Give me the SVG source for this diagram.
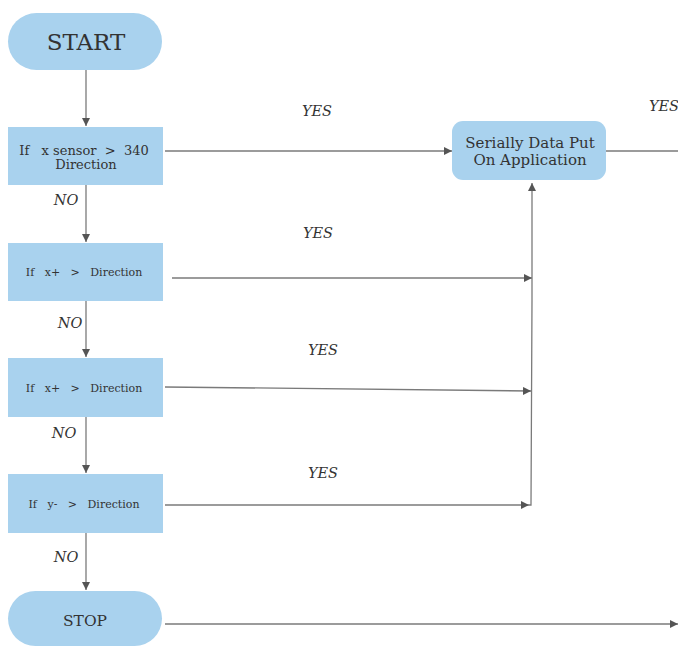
<svg xmlns="http://www.w3.org/2000/svg" width="678" height="647" viewBox="0 0 678 647">
<style>
.node{fill:#a9d2ee;stroke:none}
text{font-family:'DejaVu Serif','Liberation Serif',serif}
.t{fill:#333;text-anchor:middle}
.lbl{font-style:italic;fill:#333;font-size:14.5px;text-anchor:middle}
.c{stroke:#7a7a7a;stroke-width:1.3;fill:none}
</style>
<defs>
<marker id="ah" viewBox="0 0 10 10" refX="10" refY="5" markerWidth="8" markerHeight="8" markerUnits="userSpaceOnUse" orient="auto">
<path d="M0,0 L10,5 L0,10 z" fill="#555"/>
</marker>
</defs>
<rect width="678" height="647" fill="#fff"/>
<g id="connectors">
<line class="c" x1="86" y1="70" x2="86" y2="126" marker-end="url(#ah)"/>
<line class="c" x1="86" y1="185" x2="86" y2="242" marker-end="url(#ah)"/>
<line class="c" x1="86" y1="301" x2="86" y2="357" marker-end="url(#ah)"/>
<line class="c" x1="86" y1="417" x2="86" y2="473" marker-end="url(#ah)"/>
<line class="c" x1="86" y1="533" x2="86" y2="590" marker-end="url(#ah)"/>
<line class="c" x1="165" y1="151" x2="452" y2="151" marker-end="url(#ah)"/>
<line class="c" x1="606" y1="151" x2="678" y2="151"/>
<line class="c" x1="172" y1="278" x2="532" y2="278" marker-end="url(#ah)"/>
<line class="c" x1="165" y1="387" x2="531" y2="391" marker-end="url(#ah)"/>
<line class="c" x1="165" y1="505" x2="529" y2="505" marker-end="url(#ah)"/>
<polyline class="c" points="529,505 531,505 532,300"/>
<line class="c" x1="532" y1="300" x2="532" y2="183" marker-end="url(#ah)"/>
<line class="c" x1="165" y1="624" x2="678" y2="624" marker-end="url(#ah)"/>
<text class="lbl" x="317" y="116">YES</text>
<text class="lbl" x="664" y="111">YES</text>
<text class="lbl" x="318" y="238">YES</text>
<text class="lbl" x="323" y="355">YES</text>
<text class="lbl" x="323" y="478">YES</text>
<text class="lbl" x="66" y="205">NO</text>
<text class="lbl" x="70" y="328">NO</text>
<text class="lbl" x="64" y="438">NO</text>
<text class="lbl" x="66" y="562">NO</text>
</g>
<g id="start">
<rect class="node" x="8" y="13" width="154" height="57" rx="28.5"/>
<text class="t" x="86" y="50" font-size="23">START</text>
</g>
<g id="check1">
<rect class="node" x="8" y="127" width="155" height="58"/>
<text class="t" x="84" y="155" font-size="13" xml:space="preserve">If   x sensor  &gt;  340</text>
<text class="t" x="86" y="169" font-size="13">Direction</text>
</g>
<g id="check2">
<rect class="node" x="8" y="243" width="155" height="58"/>
<text class="t" x="84" y="276" font-size="11" xml:space="preserve">If   x+   &gt;   Direction</text>
</g>
<g id="check3">
<rect class="node" x="8" y="358" width="155" height="59"/>
<text class="t" x="84" y="392" font-size="11" xml:space="preserve">If   x+   &gt;   Direction</text>
</g>
<g id="check4">
<rect class="node" x="8" y="474" width="155" height="59"/>
<text class="t" x="84" y="508" font-size="11" xml:space="preserve">If   y-   &gt;   Direction</text>
</g>
<g id="stop">
<rect class="node" x="8" y="591" width="154" height="55" rx="27.5"/>
<text class="t" x="85" y="626" font-size="15.5">STOP</text>
</g>
<g id="serial">
<rect class="node" x="452" y="121" width="154" height="59" rx="11"/>
<text class="t" x="530" y="148" font-size="15">Serially Data Put</text>
<text class="t" x="530" y="165" font-size="15">On Application</text>
</g>
</svg>
